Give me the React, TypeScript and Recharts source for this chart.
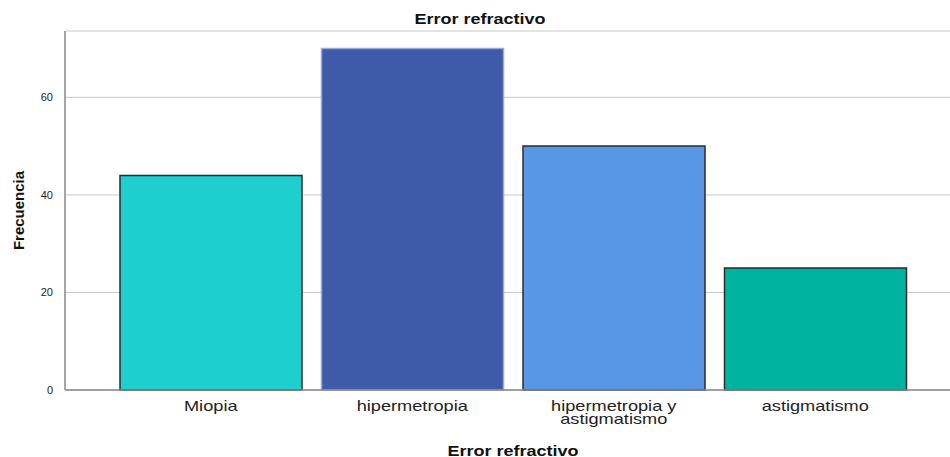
import { BarChart, Bar, Cell, CartesianGrid, XAxis, YAxis } from 'recharts'

const categories = ['Miopia', 'hipermetropia', 'hipermetropia y astigmatismo', 'astigmatismo']
const frequencies = [44, 70, 50, 25]
const yTicks = [0, 20, 40, 60]

const fills = ['#1ECFCF', '#3F5AA8', '#5897E5', '#00B3A0']
const strokes = ['#2b2b2b', '#9aa8d4', '#2b2b2b', '#2b2b2b']

const font = 'Arial, "Liberation Sans", sans-serif'

// SPSS wraps long category names onto two lines
const wrapLabel = (s: string): string[] =>
  s === 'hipermetropia y astigmatismo' ? ['hipermetropia y', 'astigmatismo'] : [s]

function CategoryTick(props: any) {
  const { x, y, payload } = props
  const lines = wrapLabel(String(payload.value))
  // the source render is stretched horizontally, so widen the glyphs a bit
  return (
    <g transform={`translate(${x},${y}) scale(1.3,1)`}>
      <text x={0} y={0} textAnchor="middle" fill="#222" fontSize={14} fontFamily={font}>
        {lines.map((l, i) => (
          <tspan key={i} x={0} dy={i === 0 ? 13 : 13}>
            {l}
          </tspan>
        ))}
      </text>
    </g>
  )
}

const headStyle = {
  position: 'absolute' as const,
  fontWeight: 'bold' as const,
  fontSize: 15,
  lineHeight: '15px',
  color: '#111',
  whiteSpace: 'nowrap' as const,
  transform: 'translateX(-50%) scaleX(1.2)',
}

export default function App() {
  const data = categories.map((name, i) => ({ name, value: frequencies[i] }))
  return (
    <div style={{ position: 'absolute', left: 0, top: 0, width: 950, height: 457, background: '#fff', fontFamily: font }}>
      <BarChart
        width={950}
        height={457}
        data={data}
        margin={{ top: 31, right: 0, bottom: 0, left: 0 }}
        barCategoryGap={10}
      >
        <CartesianGrid vertical={false} stroke="#c8c8c8" />
        <XAxis
          dataKey="name"
          height={67}
          tick={<CategoryTick />}
          tickLine={false}
          axisLine={{ stroke: '#888', strokeWidth: 1.5 }}
          padding={{ left: 45, right: 34 }}
          interval={0}
        />
        <YAxis
          width={65}
          domain={[0, 73.6]}
          ticks={yTicks}
          tickLine={false}
          axisLine={{ stroke: '#888', strokeWidth: 1.5 }}
          tick={{ fill: '#222', fontSize: 11, fontFamily: font }}
          tickMargin={6}
          label={{
            value: 'Frecuencia',
            angle: -90,
            position: 'insideLeft',
            offset: 19,
            style: { fontWeight: 'bold', fontSize: 15, fill: '#111', fontFamily: font, textAnchor: 'middle' },
          }}
        />
        <Bar dataKey="value" isAnimationActive={false} strokeWidth={1.5}>
          {data.map((d, i) => (
            <Cell key={d.name} fill={fills[i]} stroke={strokes[i]} />
          ))}
        </Bar>
      </BarChart>
      <div style={{ ...headStyle, left: 480, top: 11 }}>Error refractivo</div>
      <div style={{ ...headStyle, left: 513, top: 443 }}>Error refractivo</div>
    </div>
  )
}
